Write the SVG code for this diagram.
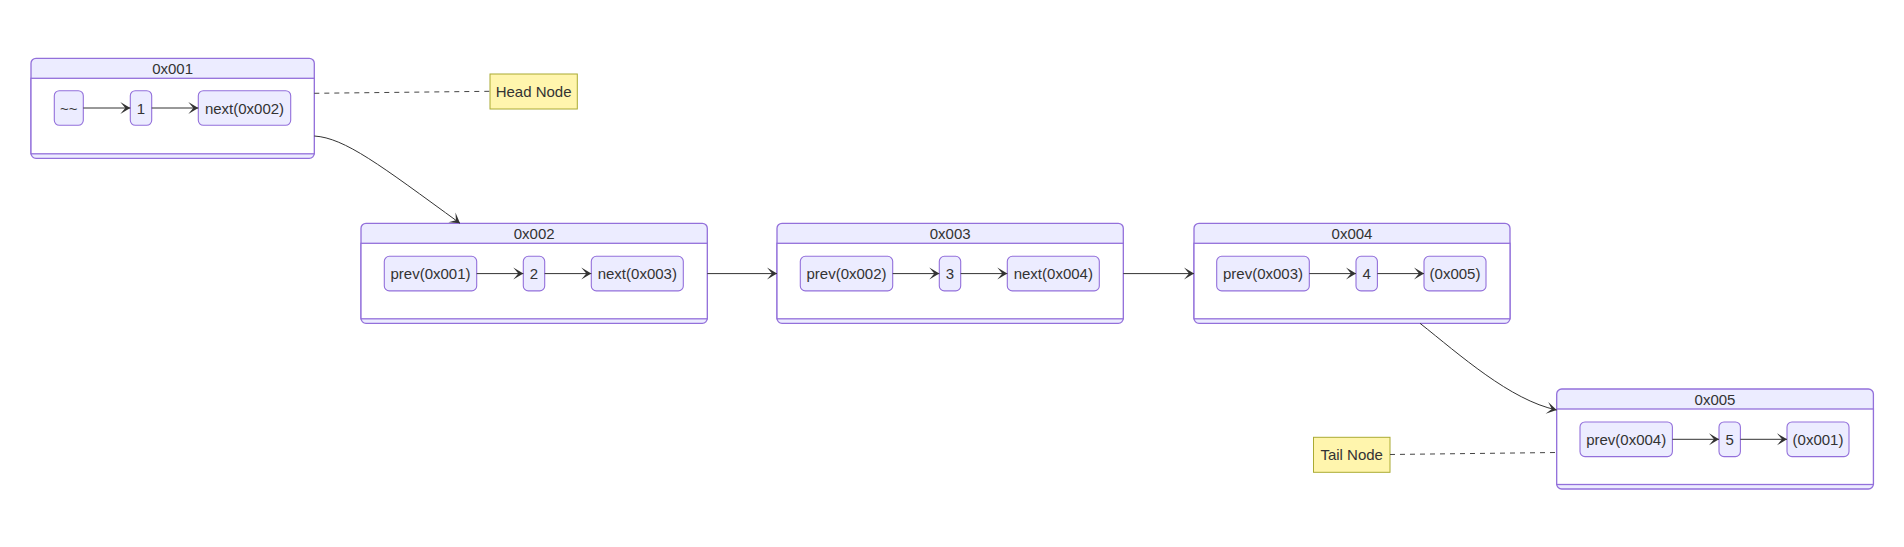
<svg xmlns="http://www.w3.org/2000/svg" width="1904" height="547" viewBox="0 0 1904 547">
<defs>
<marker id="barb" viewBox="0 0 20 14" refX="19" refY="7" markerWidth="20" markerHeight="14" markerUnits="userSpaceOnUse" orient="auto">
<path d="M 19,7 L9,13 L14,7 L9,1 Z" fill="#333"/>
</marker>
</defs>
<style>
text{font-family:"Liberation Sans",Arial,sans-serif;font-size:15px;fill:#333;text-anchor:middle;dominant-baseline:central}
.outer{fill:#ECECFF;stroke:#9370DB;stroke-width:1.3}
.inner{fill:#fff;stroke:#9370DB;stroke-width:1.3}
.st{fill:#ECECFF;stroke:#9370DB;stroke-width:1.1}
.note{fill:#fff5ad;stroke:#aaaa33;stroke-width:1}
.edge{fill:none;stroke:#333;stroke-width:1;marker-end:url(#barb)}
.nedge{fill:none;stroke:#444;stroke-width:1;stroke-dasharray:5,5}
</style>
<rect width="1904" height="547" fill="#fff"/>

<g id="node-0x001">
<rect class="outer" x="31" y="58.3" width="283.3" height="100" rx="5"/>
<rect class="inner" x="31" y="78.3" width="283.3" height="75.5"/>
<text x="172.6" y="68.3">0x001</text>
<g id="s1a"><rect class="st" x="54.3" y="90.7" width="29" height="34.6" rx="5"/><text x="68.8" y="108">~~</text></g>
<g id="s1b"><rect class="st" x="130.3" y="90.7" width="21.4" height="34.6" rx="5"/><text x="141" y="108">1</text></g>
<g id="s1c"><rect class="st" x="198.3" y="90.7" width="92.4" height="34.6" rx="5"/><text x="244.5" y="108">next(0x002)</text></g>
</g>

<g id="node-0x002">
<rect class="outer" x="361" y="223.3" width="346.3" height="100" rx="5"/>
<rect class="inner" x="361" y="243.3" width="346.3" height="75.5"/>
<text x="534.2" y="233.3">0x002</text>
<g id="s2a"><rect class="st" x="384.3" y="256.3" width="92.4" height="34.6" rx="5"/><text x="430.5" y="273.6">prev(0x001)</text></g>
<g id="s2b"><rect class="st" x="523.3" y="256.3" width="21.4" height="34.6" rx="5"/><text x="534" y="273.6">2</text></g>
<g id="s2c"><rect class="st" x="591.3" y="256.3" width="92" height="34.6" rx="5"/><text x="637.3" y="273.6">next(0x003)</text></g>
</g>

<g id="node-0x003">
<rect class="outer" x="777" y="223.3" width="346.3" height="100" rx="5"/>
<rect class="inner" x="777" y="243.3" width="346.3" height="75.5"/>
<text x="950.2" y="233.3">0x003</text>
<g id="s3a"><rect class="st" x="800.3" y="256.3" width="92.4" height="34.6" rx="5"/><text x="846.5" y="273.6">prev(0x002)</text></g>
<g id="s3b"><rect class="st" x="939.3" y="256.3" width="21.4" height="34.6" rx="5"/><text x="950" y="273.6">3</text></g>
<g id="s3c"><rect class="st" x="1007.3" y="256.3" width="92" height="34.6" rx="5"/><text x="1053.3" y="273.6">next(0x004)</text></g>
</g>

<g id="node-0x004">
<rect class="outer" x="1194" y="223.3" width="316" height="100" rx="5"/>
<rect class="inner" x="1194" y="243.3" width="316" height="75.5"/>
<text x="1352" y="233.3">0x004</text>
<g id="s4a"><rect class="st" x="1216.7" y="256.3" width="92.6" height="34.6" rx="5"/><text x="1263" y="273.6">prev(0x003)</text></g>
<g id="s4b"><rect class="st" x="1356" y="256.3" width="21.4" height="34.6" rx="5"/><text x="1366.7" y="273.6">4</text></g>
<g id="s4c"><rect class="st" x="1424" y="256.3" width="62" height="34.6" rx="5"/><text x="1455" y="273.6">(0x005)</text></g>
</g>

<g id="node-0x005">
<rect class="outer" x="1556.7" y="389" width="316.7" height="100" rx="5"/>
<rect class="inner" x="1556.7" y="409" width="316.7" height="75.5"/>
<text x="1715" y="399">0x005</text>
<g id="s5a"><rect class="st" x="1580" y="422" width="92.4" height="34.6" rx="5"/><text x="1626.2" y="439.3">prev(0x004)</text></g>
<g id="s5b"><rect class="st" x="1719" y="422" width="21.4" height="34.6" rx="5"/><text x="1729.7" y="439.3">5</text></g>
<g id="s5c"><rect class="st" x="1787" y="422" width="62" height="34.6" rx="5"/><text x="1818" y="439.3">(0x001)</text></g>
</g>

<g id="note-head">
<rect class="note" x="490" y="74" width="87.3" height="35"/>
<text x="533.6" y="91.5">Head Node</text>
</g>
<g id="note-tail">
<rect class="note" x="1313.5" y="437.3" width="76.5" height="35"/>
<text x="1351.7" y="454.8">Tail Node</text>
</g>

<g id="connectors">
<path class="edge" d="M83.3,108 L130.3,108"/>
<path class="edge" d="M151.7,108 L198.3,108"/>
<path class="edge" d="M476.7,273.6 L523.3,273.6"/>
<path class="edge" d="M544.7,273.6 L591.3,273.6"/>
<path class="edge" d="M892.7,273.6 L939.3,273.6"/>
<path class="edge" d="M960.7,273.6 L1007.3,273.6"/>
<path class="edge" d="M1309.3,273.6 L1356,273.6"/>
<path class="edge" d="M1377.4,273.6 L1424,273.6"/>
<path class="edge" d="M1672.4,439.3 L1719,439.3"/>
<path class="edge" d="M1740.4,439.3 L1787,439.3"/>
<path class="edge" d="M707.3,273.6 L777,273.6"/>
<path class="edge" d="M1123.3,273.6 L1194,273.6"/>
<path class="edge" d="M314.3,136 C345,138 380,165 460,223.3"/>
<path class="edge" d="M1420,323.3 C1460,355 1510,400 1556.7,410"/>
<path class="nedge" d="M314.3,93.3 L490,91.3"/>
<path class="nedge" d="M1390,454.5 L1556.7,452.5"/>
</g>
</svg>
